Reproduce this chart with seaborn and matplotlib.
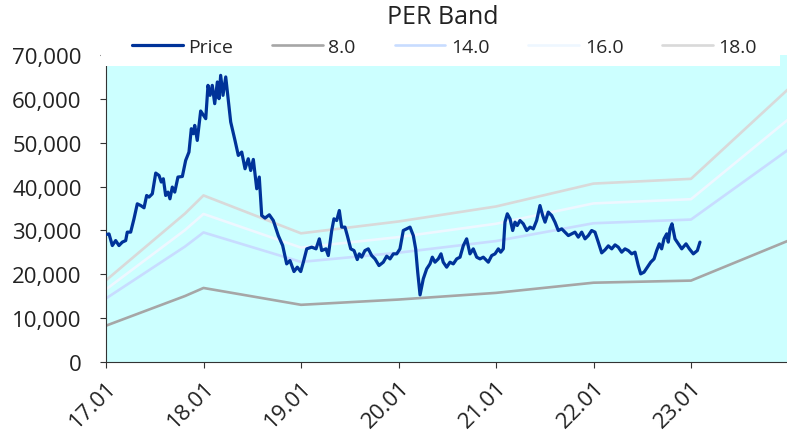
import numpy as np
import pandas as pd
import matplotlib
matplotlib.use("Agg")
import matplotlib.pyplot as plt
from matplotlib.patches import Rectangle
import seaborn as sns

# Style
sns.set_theme(style="ticks")
plt.rcParams['font.family'] = ['Open Sans', 'DejaVu Sans']

# Price (x in years: 17.0 = Jan 2017)
price_t = [17.007, 17.031, 17.065, 17.099, 17.133, 17.167, 17.202, 17.218, 17.253, 17.287,
           17.321, 17.356, 17.390, 17.417, 17.441, 17.475, 17.510, 17.544, 17.567, 17.588,
           17.612, 17.636, 17.656, 17.680, 17.705, 17.738, 17.783, 17.817, 17.851, 17.875,
           17.895, 17.910, 17.936, 17.971, 18.023, 18.046, 18.067, 18.090, 18.115, 18.142,
           18.159, 18.176, 18.200, 18.228, 18.251, 18.279, 18.323, 18.357, 18.392, 18.426,
           18.459, 18.484, 18.511, 18.546, 18.572, 18.597, 18.631, 18.675, 18.716, 18.767,
           18.812, 18.853, 18.887, 18.928, 18.962, 18.997, 19.024, 19.059, 19.110, 19.154,
           19.188, 19.212, 19.256, 19.280, 19.315, 19.338, 19.366, 19.393, 19.417, 19.451,
           19.475, 19.510, 19.544, 19.577, 19.598, 19.622, 19.656, 19.690, 19.725, 19.759,
           19.800, 19.844, 19.879, 19.913, 19.947, 19.982, 20.015, 20.049, 20.084, 20.118,
           20.152, 20.176, 20.197, 20.221, 20.254, 20.289, 20.323, 20.347, 20.374, 20.408,
           20.436, 20.459, 20.494, 20.528, 20.562, 20.597, 20.631, 20.665, 20.699, 20.733,
           20.767, 20.802, 20.836, 20.870, 20.921, 20.956, 20.990, 21.024, 21.048, 21.075,
           21.092, 21.116, 21.144, 21.171, 21.195, 21.218, 21.246, 21.280, 21.315, 21.349,
           21.383, 21.417, 21.451, 21.479, 21.503, 21.536, 21.571, 21.605, 21.639, 21.674,
           21.708, 21.742, 21.776, 21.810, 21.844, 21.879, 21.913, 21.947, 21.981, 22.015,
           22.049, 22.084, 22.118, 22.152, 22.187, 22.221, 22.254, 22.289, 22.323, 22.357,
           22.392, 22.426, 22.459, 22.484, 22.518, 22.552, 22.587, 22.621, 22.648, 22.675,
           22.699, 22.723, 22.751, 22.767, 22.785, 22.805, 22.836, 22.870, 22.905, 22.949,
           22.983, 23.024, 23.065, 23.092]
price_v = [29100, 29200, 26550, 27690, 26550, 27330, 27690, 29610, 29610, 32650,
           36070, 35680, 35160, 37970, 37600, 38350, 43080, 42530, 41030, 41780,
           37970, 38740, 37210, 39880, 38740, 42170, 42300, 45960, 47870, 53190,
           52050, 53950, 50520, 57230, 55480, 63080, 60800, 63080, 58900, 63850,
           60040, 65360, 60800, 65000, 60430, 54720, 50520, 47100, 47870, 44060,
           46340, 43670, 46190, 39500, 42170, 33400, 32810, 33560, 32260, 28830,
           26550, 22370, 23130, 20620, 21620, 20620, 22760, 25800, 26190, 25800,
           28080, 25410, 25800, 24270, 29980, 32650, 32260, 34540, 30750, 30750,
           28830, 25800, 25410, 23360, 24660, 23900, 25410, 25800, 24270, 23510,
           21990, 22760, 24130, 23510, 24660, 24660, 25800, 29980, 30360, 30750,
           28830, 25800, 20480, 15300, 18950, 21230, 22370, 23900, 22760, 23510,
           24660, 22760, 21620, 22760, 22370, 23510, 23900, 26550, 28080, 24660,
           25800, 23900, 23510, 23900, 22760, 24270, 24660, 25800, 25040, 25800,
           31890, 33790, 32650, 29980, 31890, 31120, 32260, 31510, 29980, 30750,
           30360, 32260, 35680, 33400, 31890, 34180, 33400, 31890, 29980, 30360,
           29610, 28830, 29220, 29610, 28470, 29610, 28080, 28830, 29980, 29610,
           27330, 24880, 25570, 26480, 25800, 26710, 26190, 25040, 25800, 25410,
           24660, 25040, 21990, 20090, 20480, 21620, 22760, 23510, 25410, 26940,
           25800, 28080, 29220, 27330, 30360, 31510, 28080, 26940, 25800, 26940,
           25800, 24660, 25410, 27330]

# EPS anchors for the PER bands
eps_t = [17.0, 17.81, 18.0, 19.0, 20.0, 21.0, 22.0, 23.0, 24.0]
eps_v = [1035, 1880, 2110, 1630, 1780, 1970, 2260, 2320, 3460]
band_multiples = [8.0, 14.0, 16.0, 18.0]
band_colors = ['#A6A6A6', '#C8DCFF', '#EEF7FF', '#D9D9D9']

x_ticks = [17, 18, 19, 20, 21, 22, 23]
x_ticklabels = ['17.01', '18.01', '19.01', '20.01', '21.01', '22.01', '23.01']
y_ticks = [0, 10000, 20000, 30000, 40000, 50000, 60000, 70000]

fig = plt.figure(figsize=(7.87, 4.35), dpi=100)
ax = fig.add_axes([106 / 787, 1 - 363 / 435, 681 / 787, (363 - 56) / 435])
ax.set_facecolor('#CCFFFF')

# Bands
for m, c in zip(band_multiples, band_colors):
    sns.lineplot(x=eps_t, y=[m * e for e in eps_v], ax=ax, color=c, linewidth=1.9,
                 label=f'{m:.1f}', zorder=2)

# Price
sns.lineplot(x=price_t, y=price_v, ax=ax, color='#003399', linewidth=2.3,
             label='Price', zorder=3)

ax.set_xlim(17, 17 + 681 / 97.5)
ax.set_ylim(0, 70000)
ax.set_xticks(x_ticks)
ax.set_xticklabels(x_ticklabels, rotation=45, ha='right', rotation_mode='anchor')
ax.set_yticks(y_ticks)
ax.set_yticklabels([f'{v:,}' for v in y_ticks])
ax.tick_params(axis='both', labelsize=16, length=4.5, width=0.8, color='#333333',
               labelcolor='#222222')
ax.tick_params(axis='y', pad=13)
ax.tick_params(axis='x', pad=6)
ax.set_xlabel('')
ax.set_ylabel('')
for s in ['top', 'right']:
    ax.spines[s].set_visible(False)
for s in ['left', 'bottom']:
    ax.spines[s].set_color('#333333')
    ax.spines[s].set_linewidth(0.8)

# White box behind the legend covering the top of the plot area
ax.add_patch(Rectangle((101 / 787, 1 - 67 / 435), 679 / 787, 40 / 435,
                       transform=fig.transFigure, facecolor='white',
                       edgecolor='none', zorder=4, clip_on=False))

handles, labels = ax.get_legend_handles_labels()
order = [4, 0, 1, 2, 3]
leg = ax.legend([handles[i] for i in order], [labels[i] for i in order],
                ncol=5, mode='expand', loc='center',
                bbox_to_anchor=(132 / 787, 1 - 58 / 435, 625 / 787, 20 / 435),
                bbox_transform=fig.transFigure, frameon=False, fontsize=14,
                handlelength=2.6, handletextpad=0.3, borderpad=0, borderaxespad=0)
leg.set_zorder(5)

fig.text(443 / 787, 1 - 18 / 435, 'PER Band', ha='center', va='center',
         fontsize=18, color='#222222')

fig.savefig('out.png', dpi=100)
